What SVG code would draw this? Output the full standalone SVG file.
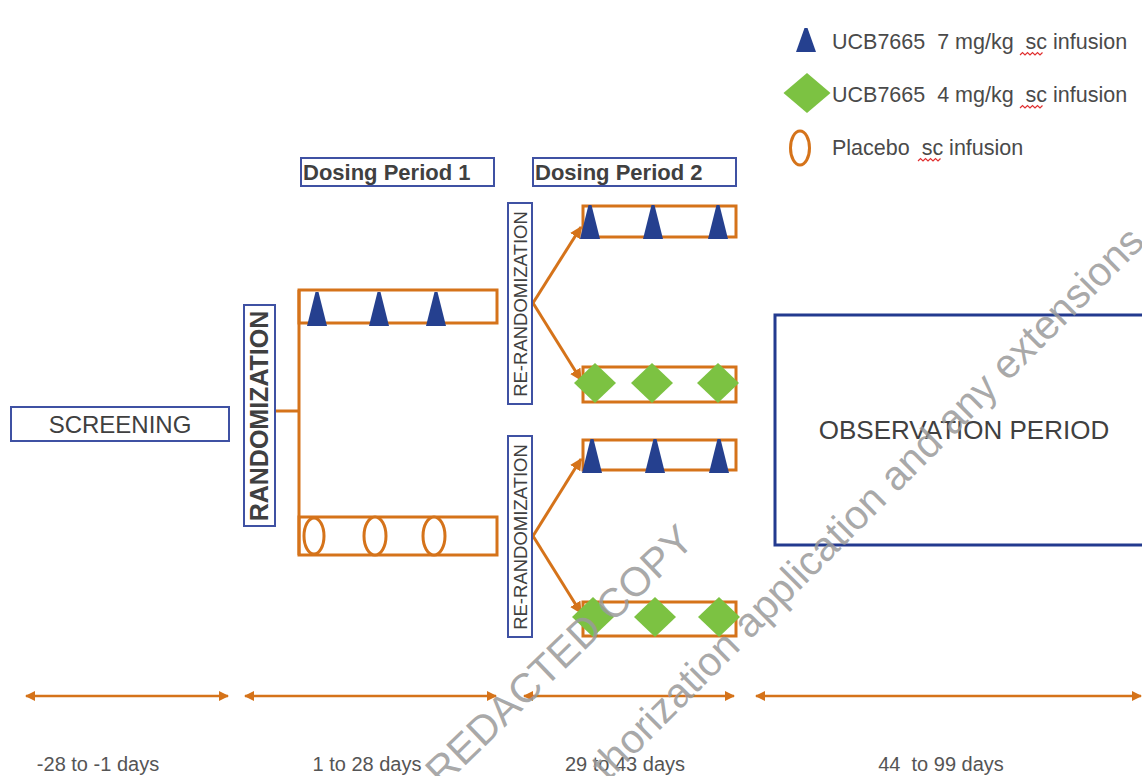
<svg xmlns="http://www.w3.org/2000/svg" width="1142" height="776" viewBox="0 0 1142 776">
<style>
.bb{fill:#fff;stroke:#3f51a3;stroke-width:2}
.ob{fill:#fff;stroke:#233a8f;stroke-width:3}
.arm{fill:none;stroke:#d5731a;stroke-width:3}
.ln{fill:none;stroke:#d5731a;stroke-width:3}
.tl{fill:none;stroke:#d5731a;stroke-width:2.5}
.tri{fill:#25408f}
.dia{fill:#7cc242}
.plc{fill:#fff;stroke:#d5731a;stroke-width:3}
.t{font-family:"Liberation Sans",Arial,sans-serif;fill:#404040}
.lg{font-family:"Liberation Sans",Arial,sans-serif;fill:#4a4a4a;font-size:21.5px;white-space:pre}
.dy{font-family:"Liberation Sans",Arial,sans-serif;fill:#555;font-size:20px;text-anchor:middle;white-space:pre}
.sq{fill:none;stroke:#e03030;stroke-width:1.2}
.wm{font-family:"Liberation Sans",Arial,sans-serif;fill:#9a9a9a;font-size:41px;fill-opacity:0.85}
</style>
<defs>
<path id="trg" d="M-1.5,-17 L1.5,-17 L10,17 L-10,17 Z"/>
<path id="dmd" d="M0,-20 L21,0 L0,20 L-21,0 Z"/>
<marker id="ah" viewBox="0 0 10 10" refX="9" refY="5" markerWidth="4" markerHeight="4" orient="auto-start-reverse">
<path d="M0,0 L10,5 L0,10 Z" fill="#d5731a"/>
</marker>
</defs>

<g id="legend">
<use href="#trg" class="tri" transform="translate(806,40) scale(1,0.7)"/>
<text class="lg" x="832" y="49" xml:space="preserve">UCB7665  7 mg/kg  sc infusion</text>
<path class="sq" d="M1020,55 l2.5,-2.5 l2.5,2.5 l2.5,-2.5 l2.5,2.5 l2.5,-2.5 l2.5,2.5 l2.5,-2.5 l2.5,2.5 l2.5,-2.5"/>
<use href="#dmd" class="dia" transform="translate(807,93) scale(1.12,1)"/>
<text class="lg" x="832" y="102" xml:space="preserve">UCB7665  4 mg/kg  sc infusion</text>
<path class="sq" d="M1020,108 l2.5,-2.5 l2.5,2.5 l2.5,-2.5 l2.5,2.5 l2.5,-2.5 l2.5,2.5 l2.5,-2.5 l2.5,2.5 l2.5,-2.5"/>
<ellipse class="plc" cx="800" cy="148" rx="9.5" ry="17"/>
<text class="lg" x="832" y="155" xml:space="preserve">Placebo  sc infusion</text>
<path class="sq" d="M918,161 l2.5,-2.5 l2.5,2.5 l2.5,-2.5 l2.5,2.5 l2.5,-2.5 l2.5,2.5 l2.5,-2.5 l2.5,2.5 l2.5,-2.5"/>
</g>

<g id="connectors">
<polyline class="ln" points="275,411 299,411"/>
<line class="ln" x1="299" y1="290" x2="299" y2="555"/>
<line class="arm" x1="533" y1="303" x2="581" y2="227" marker-end="url(#ah)"/>
<line class="arm" x1="533" y1="303" x2="581" y2="380" marker-end="url(#ah)"/>
<line class="arm" x1="533" y1="536" x2="581" y2="459" marker-end="url(#ah)"/>
<line class="arm" x1="533" y1="536" x2="581" y2="613" marker-end="url(#ah)"/>
<line class="tl" x1="26" y1="696" x2="228" y2="696" marker-start="url(#ah)" marker-end="url(#ah)"/>
<line class="tl" x1="245" y1="696" x2="496" y2="696" marker-start="url(#ah)" marker-end="url(#ah)"/>
<line class="tl" x1="524" y1="696" x2="734" y2="696" marker-start="url(#ah)" marker-end="url(#ah)"/>
<line class="tl" x1="756" y1="696" x2="1141" y2="696" marker-start="url(#ah)" marker-end="url(#ah)"/>
</g>

<g id="screening">
<rect class="bb" x="11" y="407" width="218" height="34"/>
<text class="t" x="120" y="433" font-size="24" text-anchor="middle">SCREENING</text>
</g>

<g id="randomization">
<rect class="bb" x="244" y="305" width="31" height="221"/>
<text class="t" transform="translate(268,416) rotate(-90)" font-size="25" font-weight="bold" text-anchor="middle">RANDOMIZATION</text>
</g>

<g id="dp1-label">
<rect class="bb" x="301" y="158" width="193" height="28"/>
<text class="t" x="303" y="180" font-size="22" font-weight="bold">Dosing Period 1</text>
</g>
<g id="dp2-label">
<rect class="bb" x="533" y="158" width="203" height="28"/>
<text class="t" x="535" y="180" font-size="22" font-weight="bold">Dosing Period 2</text>
</g>

<g id="dp1-active">
<rect class="ln" x="299" y="290" width="198" height="33" fill="#fff"/>
<use href="#trg" class="tri" x="317" y="309"/>
<use href="#trg" class="tri" x="379" y="309"/>
<use href="#trg" class="tri" x="436" y="309"/>
</g>

<g id="dp1-placebo">
<rect class="ln" x="299" y="517" width="198" height="38" fill="#fff"/>
<ellipse class="plc" cx="314" cy="536" rx="10" ry="18"/>
<ellipse class="plc" cx="375" cy="536" rx="11" ry="19"/>
<ellipse class="plc" cx="434" cy="536" rx="11" ry="19"/>
</g>

<g id="rerand-1">
<rect class="bb" x="508" y="203" width="24" height="201"/>
<text class="t" transform="translate(527,304) rotate(-90)" font-size="18.5" fill="#333" text-anchor="middle">RE-RANDOMIZATION</text>
</g>
<g id="rerand-2">
<rect class="bb" x="508" y="436" width="24" height="201"/>
<text class="t" transform="translate(527,537) rotate(-90)" font-size="18.5" fill="#333" text-anchor="middle">RE-RANDOMIZATION</text>
</g>

<g id="dp2-a">
<rect class="ln" x="583" y="206" width="153" height="31" fill="#fff"/>
<use href="#trg" class="tri" x="590" y="222"/>
<use href="#trg" class="tri" x="653" y="222"/>
<use href="#trg" class="tri" x="718" y="222"/>
</g>
<g id="dp2-b">
<rect class="ln" x="583" y="367" width="153" height="35" fill="#fff"/>
<use href="#dmd" class="dia" x="595" y="383"/>
<use href="#dmd" class="dia" x="652" y="383"/>
<use href="#dmd" class="dia" x="718" y="383"/>
</g>
<g id="dp2-c">
<rect class="ln" x="583" y="440" width="153" height="30" fill="#fff"/>
<use href="#trg" class="tri" x="592" y="456"/>
<use href="#trg" class="tri" x="655" y="456"/>
<use href="#trg" class="tri" x="719" y="456"/>
</g>
<g id="dp2-d">
<rect class="ln" x="583" y="602" width="153" height="34" fill="#fff"/>
<use href="#dmd" class="dia" x="593" y="617"/>
<use href="#dmd" class="dia" x="655" y="617"/>
<use href="#dmd" class="dia" x="719" y="617"/>
</g>

<g id="observation">
<rect class="ob" x="775" y="315" width="380" height="230"/>
<text class="t" x="964" y="439" font-size="26" text-anchor="middle">OBSERVATION PERIOD</text>
</g>

<g id="timeline-labels">
<text class="dy" x="98" y="771">-28 to -1 days</text>
<text class="dy" x="367" y="771">1 to 28 days</text>
<text class="dy" x="625" y="771">29 to 43 days</text>
<text class="dy" x="941" y="771" xml:space="preserve">44  to 99 days</text>
</g>

<g id="watermark">
<text class="wm" transform="translate(442,788) rotate(-44)">REDACTED COPY</text>
<text class="wm" transform="translate(608,782) rotate(-45)">thorization application and any extensions</text>
</g>
</svg>
